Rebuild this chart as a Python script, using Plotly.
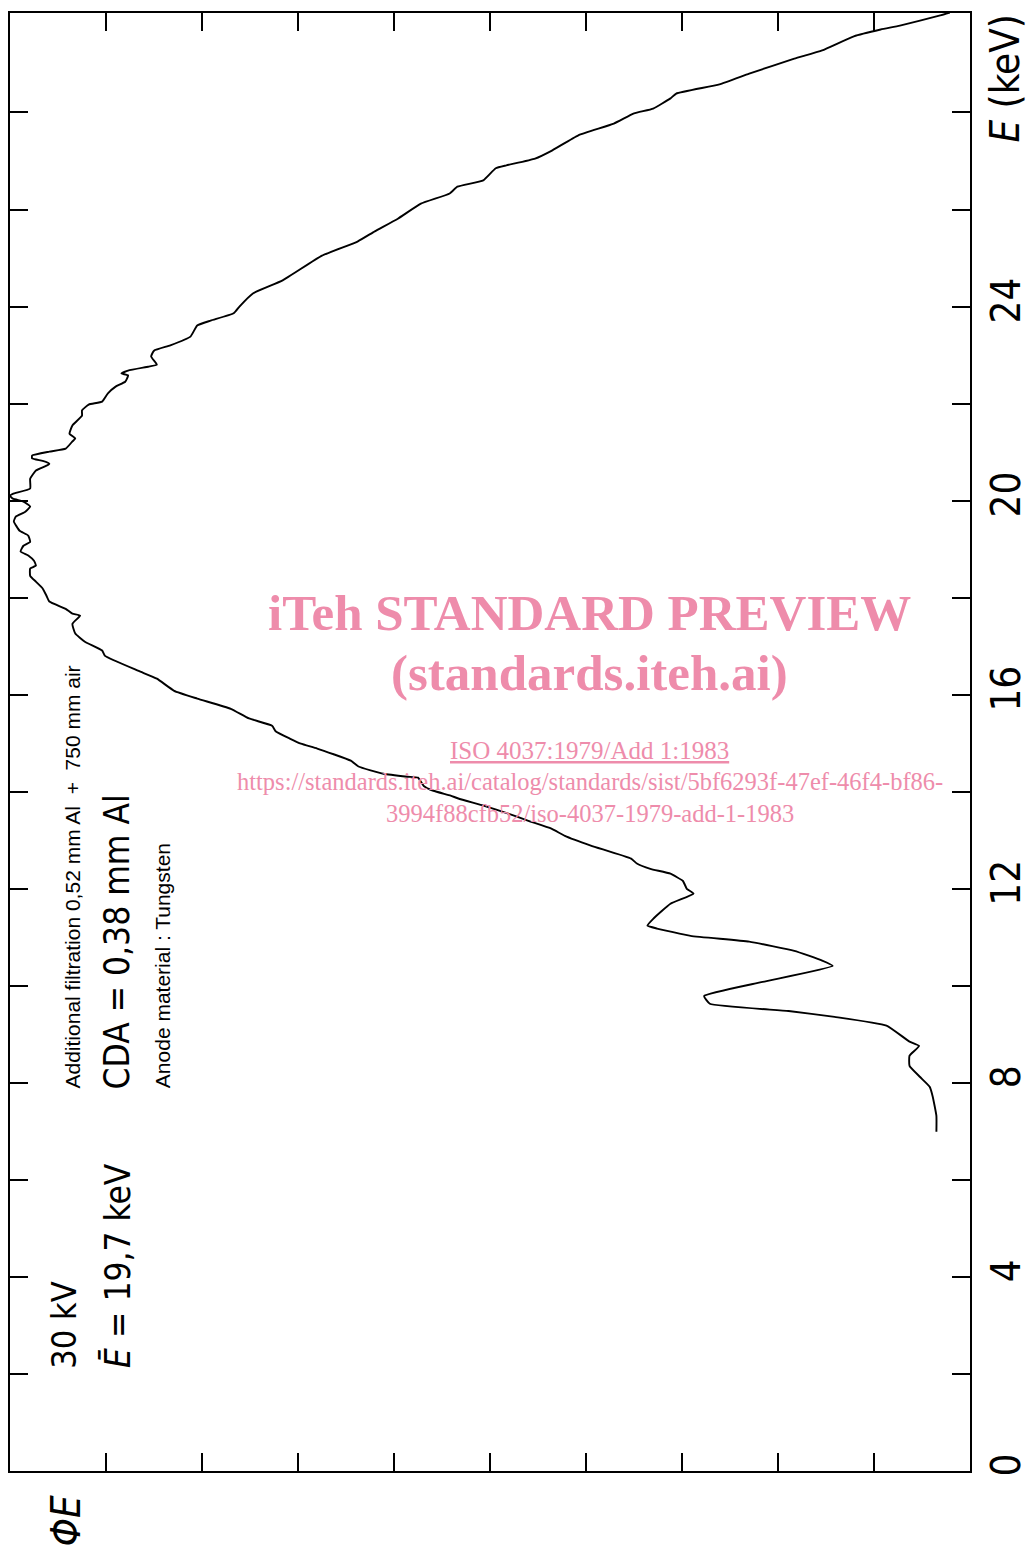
import plotly.graph_objects as go

# Photon energy E (keV) along the spectrum, low to high
energy_kev = [
    6.99, 7.32, 7.73, 7.92, 8.12, 8.35, 8.56, 8.76, 8.85, 9.18,
    9.36, 9.48, 9.63, 9.79, 10.08, 10.41, 10.52, 10.72, 10.91, 11.03,
    11.18, 11.24, 11.38, 11.69, 11.90, 12.00, 12.16, 12.31, 12.41, 12.52,
    12.62, 12.89, 13.09, 13.24, 13.40, 13.55, 13.71, 13.86, 13.92, 14.02,
    14.12, 14.29, 14.31, 14.37, 14.52, 14.64, 14.89, 14.99, 15.09, 15.24,
    15.36, 15.51, 15.71, 15.92, 16.08, 16.33, 16.49, 16.80, 16.91, 17.09,
    17.26, 17.46, 17.63, 17.67, 17.77, 17.92, 18.04, 18.19, 18.33, 18.45,
    18.60, 18.66, 18.76, 18.87, 18.95, 19.07, 19.15, 19.28, 19.38, 19.57,
    19.67, 19.77, 19.88, 19.98, 20.04, 20.10, 20.14, 20.25, 20.45, 20.62,
    20.72, 20.76, 20.82, 20.87, 20.93, 21.01, 21.07, 21.22, 21.28, 21.38,
    21.55, 21.75, 21.86, 21.98, 22.04, 22.21, 22.35, 22.45, 22.58, 22.62,
    22.68, 22.76, 22.80, 22.97, 23.09, 23.20, 23.38, 23.61, 23.71, 23.86,
    24.00, 24.27, 24.54, 25.05, 25.34, 25.55, 25.81, 26.12, 26.33, 26.47,
    26.60, 26.85, 26.91, 27.05, 27.22, 27.53, 27.77, 27.98, 28.08, 28.29,
    28.39, 28.58, 28.80, 29.11, 29.28, 29.57, 29.71, 29.79, 30.00, 30.06,
]

# Spectral fluence Phi_E (relative units, 0..10 across the frame)
fluence = [
    0.35, 0.35, 0.39, 0.42, 0.52, 0.63, 0.63, 0.53, 0.63, 0.87,
    1.41, 1.89, 2.71, 2.77, 2.16, 1.43, 1.54, 1.83, 2.30, 2.91,
    3.26, 3.36, 3.30, 3.12, 2.88, 2.95, 2.99, 3.12, 3.33, 3.47,
    3.53, 3.95, 4.22, 4.36, 4.60, 4.81, 5.06, 5.33, 5.41, 5.59,
    5.69, 5.75, 5.86, 6.11, 6.37, 6.45, 6.80, 6.97, 7.08, 7.23,
    7.27, 7.51, 7.70, 8.05, 8.29, 8.47, 8.66, 9.01, 9.04, 9.22,
    9.32, 9.35, 9.27, 9.35, 9.42, 9.59, 9.62, 9.66, 9.73, 9.79,
    9.79, 9.73, 9.75, 9.81, 9.89, 9.86, 9.79, 9.81, 9.90, 9.96,
    9.94, 9.84, 9.79, 9.86, 9.97, 10.0, 9.97, 9.79, 9.79, 9.73,
    9.62, 9.59, 9.66, 9.77, 9.77, 9.59, 9.42, 9.35, 9.32, 9.38,
    9.35, 9.25, 9.25, 9.18, 9.04, 8.98, 8.90, 8.80, 8.77, 8.84,
    8.77, 8.56, 8.47, 8.53, 8.50, 8.33, 8.12, 8.05, 7.91, 7.67,
    7.61, 7.47, 7.16, 6.75, 6.38, 6.20, 5.96, 5.72, 5.42, 5.34,
    5.07, 4.94, 4.83, 4.53, 4.35, 4.08, 3.71, 3.50, 3.30, 3.12,
    3.06, 2.61, 2.30, 1.83, 1.54, 1.21, 0.93, 0.73, 0.31, 0.21,
]

# Energy axis ticks every 2 keV, labelled every 4 keV
energy_ticks = [0, 2, 4, 6, 8, 10, 12, 14, 16, 18, 20, 22, 24, 26, 28]
energy_tick_labels = ["0", "", "4", "", "8", "", "12", "", "16", "", "20", "", "24", "", ""]
fluence_ticks = [0, 1, 2, 3, 4, 5, 6, 7, 8, 9, 10]

NARROW = "Liberation Sans Narrow, DejaVu Sans Condensed, sans-serif"
SANS = "Liberation Sans, Arial, sans-serif"
SERIF = "Liberation Serif, Times New Roman, serif"
PINK = "#ee8cab"

fig = go.Figure()
fig.add_trace(go.Scatter(
    x=fluence, y=energy_kev, mode="lines",
    line=dict(color="black", width=1.9, shape="spline", smoothing=0.4),
    hoverinfo="skip", showlegend=False,
))

fig.update_layout(
    width=1028, height=1549,
    margin=dict(l=10, r=58, t=13, b=78),
    paper_bgcolor="white", plot_bgcolor="white",
    xaxis=dict(
        range=[10, 0], showgrid=False, zeroline=False, automargin=False,
        showline=True, linecolor="black", linewidth=2, mirror="ticks",
        ticks="inside", ticklen=18, tickwidth=2, tickcolor="black",
        tickvals=fluence_ticks, showticklabels=False,
    ),
    yaxis=dict(
        range=[0, 30.05], side="right", showgrid=False, zeroline=False,
        automargin=False,
        showline=True, linecolor="black", linewidth=2, mirror="ticks",
        ticks="inside", ticklen=18, tickwidth=2, tickcolor="black",
        tickvals=energy_ticks, ticktext=energy_tick_labels,
        tickangle=-90, tickfont=dict(family=NARROW, size=40, color="black"),
    ),
)

def rotated(text, x, y, size, family, xanchor="center", yanchor="bottom"):
    fig.add_annotation(
        text=text, x=x, y=y, xref="paper", yref="paper",
        textangle=-90, showarrow=False, xanchor=xanchor, yanchor=yanchor,
        font=dict(family=family, size=size, color="black"),
    )

# Axis titles
rotated("<i>E</i> (keV)", 1.036, 1.0, 40, NARROW, yanchor="top")
rotated("<i>ΦE</i>", 0.058, -0.034, 40, NARROW, yanchor="middle")

# Beam description
rotated("30 kV", 0.056, 0.069, 34, NARROW)
rotated("<i>Ē</i> = 19,7 keV", 0.1125, 0.069, 35, NARROW)
rotated("Additional filtration 0,52 mm Al  +  750 mm air", 0.0656, 0.2613, 21, SANS)
rotated("CDA = 0,38 mm Al", 0.1115, 0.26, 35, NARROW)
rotated("Anode material : Tungsten", 0.159, 0.2613, 21, SANS)

# Preview watermark
def mark(text, y, size, bold=False):
    fig.add_annotation(
        text=text, x=0.604, y=y, xref="paper", yref="paper",
        showarrow=False, xanchor="center", yanchor="middle",
        font=dict(family=SERIF, size=size, color=PINK,
                  weight="bold" if bold else "normal"),
    )

mark("iTeh STANDARD PREVIEW", 0.5885, 51, bold=True)
mark("(standards.iteh.ai)", 0.547, 51, bold=True)
mark("<u>ISO 4037:1979/Add 1:1983</u>", 0.4945, 25)
mark("https://standards.iteh.ai/catalog/standards/sist/5bf6293f-47ef-46f4-bf86-", 0.4726, 24.5)
mark("3994f88cfb52/iso-4037-1979-add-1-1983", 0.4513, 24.5)

fig.write_html("out.html")
